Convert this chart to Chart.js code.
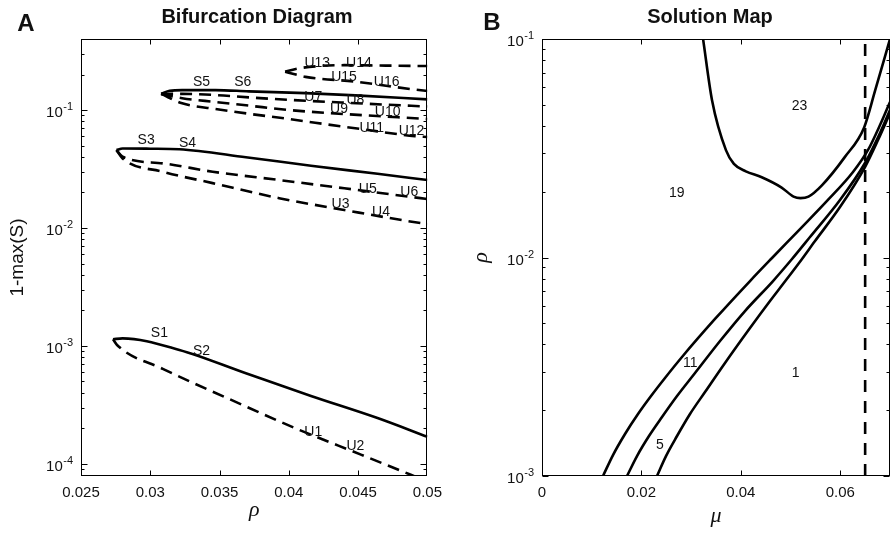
<!DOCTYPE html>
<html>
<head>
<meta charset="utf-8">
<script src="https://cdn.jsdelivr.net/npm/chart.js@4.4.1/dist/chart.umd.min.js"></script>
<style>
  body { margin: 0; background: #fff; }
  #wrap { position: relative; width: 891px; height: 533px; }
  canvas { position: absolute; top: 0; }
</style>
</head>
<body>
<div id="wrap">
  <canvas id="chartA" width="450" height="533" style="left:0"></canvas>
  <canvas id="chartB" width="441" height="533" style="left:450px"></canvas>
</div>
<script>
// ---------- Panel A: bifurcation diagram (rho vs 1-max(S)) ----------
const rhoTicksA = [0.025, 0.03, 0.035, 0.04, 0.045, 0.05];
const decadesA = [1e-4, 1e-3, 1e-2, 1e-1];

// lowest branch pair
const rhoS12 = [0.02731, 0.0280, 0.0321, 0.0369, 0.0416, 0.0464, 0.0500];
const valS12 = [1.14e-3, 1.16e-3, 9.25e-4, 5.87e-4, 3.77e-4, 2.45e-4, 1.70e-4];
const rhoU12 = [0.02731, 0.0276, 0.0309, 0.0357, 0.0405, 0.0452, 0.0488, 0.0500];
const valU12 = [1.14e-3, 1.02e-3, 6.4e-4, 3.55e-4, 2.0e-4, 1.2e-4, 8.1e-5, 7.1e-5];

// middle group
const rhoS34 = [0.02756, 0.0280, 0.0300, 0.0321, 0.0369, 0.0416, 0.0464, 0.0500];
const valS34 = [0.0458, 0.0472, 0.0470, 0.0465, 0.0398, 0.0337, 0.0288, 0.0255];
const rhoU3456 = [0.02756, 0.0280, 0.0309, 0.0345, 0.0393, 0.0440, 0.0495, 0.0500];
const valU56 = [0.0458, 0.0402, 0.0353, 0.0300, 0.0255, 0.0217, 0.0179, 0.0176];
const valU34 = [0.0458, 0.0389, 0.0300, 0.0240, 0.0179, 0.0142, 0.0110, 0.0108];

// upper group
const rhoS56 = [0.03078, 0.0314, 0.0323, 0.0347, 0.0371, 0.0412, 0.0448, 0.0500];
const valS56 = [0.137, 0.1455, 0.1476, 0.1476, 0.144, 0.139, 0.133, 0.123];
const rhoU7to10 = [0.03078, 0.0323, 0.0347, 0.0371, 0.0400, 0.0443, 0.0500];
const valU78 = [0.137, 0.137, 0.134, 0.128, 0.122, 0.115, 0.107];
const valU910 = [0.137, 0.126, 0.117, 0.109, 0.100, 0.092, 0.084];
const rhoU1112 = [0.03078, 0.0323, 0.0347, 0.0371, 0.0400, 0.0419, 0.0452, 0.0491, 0.0500];
const valU1112 = [0.137, 0.114, 0.102, 0.093, 0.084, 0.078, 0.069, 0.060, 0.059];

// top pair
const rhoU1314 = [0.03973, 0.0405, 0.0420, 0.0440, 0.0470, 0.0500];
const valU1314 = [0.211, 0.223, 0.235, 0.240, 0.238, 0.236];
const rhoU1516 = [0.03973, 0.0405, 0.0412, 0.0448, 0.0491, 0.0500];
const valU1516 = [0.211, 0.200, 0.191, 0.174, 0.149, 0.145];

// branch labels
const labelsA = ['S1', 'S2', 'U1', 'U2', 'S3', 'S4', 'U5', 'U6', 'U3', 'U4',
  'S5', 'S6', 'U7', 'U8', 'U9', 'U10', 'U11', 'U12', 'U13', 'U14', 'U15', 'U16'];
const labelRhoA = [0.03066, 0.0337, 0.04176, 0.0448, 0.0297, 0.03269, 0.0457, 0.04869, 0.04373, 0.04665,
  0.0337, 0.03668, 0.04176, 0.0448, 0.04362, 0.04713, 0.04598, 0.04885, 0.04205, 0.04506, 0.04398, 0.04706];
const labelValA = [1.28e-3, 8.95e-4, 1.85e-4, 1.42e-4, 0.0557, 0.0522, 0.0214, 0.020, 0.01596, 0.01352,
  0.1738, 0.1738, 0.1276, 0.1216, 0.102, 0.0953, 0.070, 0.0664, 0.249, 0.249, 0.1914, 0.171];

// ---------- Panel B: solution map (mu vs rho) ----------
const muTicksB = [0, 0.02, 0.04, 0.06];
const decadesB = [1e-3, 1e-2, 1e-1];

const muC1 = [0.0324, 0.0342, 0.0370, 0.0386, 0.0410, 0.0442, 0.0482, 0.0506, 0.0520, 0.0536, 0.0563, 0.0609, 0.0648, 0.0670, 0.0700];
const rhoC1 = [0.1, 0.0525, 0.031, 0.0268, 0.0248, 0.0233, 0.0209, 0.0190, 0.0187, 0.0190, 0.0214, 0.0288, 0.0394, 0.058, 0.1];
const muC2 = [0.01227, 0.01428, 0.01670, 0.01931, 0.02193, 0.02474, 0.02816, 0.03480, 0.04184,
  0.04627, 0.05190, 0.05733, 0.06256, 0.06558, 0.06799, 0.0700];
const rhoC2 = [0.001, 1.247e-3, 1.557e-3, 1.922e-3, 2.323e-3, 2.809e-3, 3.504e-3, 5.231e-3, 7.805e-3,
  9.95e-3, 0.01349, 0.01815, 0.02461, 0.03105, 0.04038, 0.05152];
const muC3 = [0.01710, 0.01911, 0.02152, 0.02414, 0.02716, 0.03078, 0.03581, 0.04083, 0.04647,
  0.05029, 0.05391, 0.05994, 0.06497, 0.06799, 0.0700];
const rhoC3 = [0.001, 1.234e-3, 1.524e-3, 1.862e-3, 2.323e-3, 2.960e-3, 4.147e-3, 5.689e-3, 7.805e-3,
  9.842e-3, 0.01241, 0.01833, 0.02707, 0.03714, 0.04732];
const muC4 = [0.02313, 0.02494, 0.02716, 0.02977, 0.03279, 0.03681, 0.04184, 0.04586, 0.04848,
  0.05170, 0.05492, 0.05994, 0.06497, 0.06759, 0.0700];
const rhoC4 = [0.001, 1.234e-3, 1.524e-3, 1.922e-3, 2.423e-3, 3.291e-3, 4.756e-3, 6.323e-3, 7.56e-3,
  9.44e-3, 0.01190, 0.01702, 0.02595, 0.03449, 0.04583];
const muCrit = [0.065, 0.065];
const rhoCrit = [0.001, 0.1];

const labelsB = ['23', '19', '11', '5', '1'];
const labelMuB = [0.0518, 0.0271, 0.0298, 0.0237, 0.0510];
const labelRhoB = [0.0493, 0.0198, 3.27e-3, 1.39e-3, 2.95e-3];

// ---------- helpers ----------
const SANS = '"Liberation Sans", Arial, sans-serif';
const INK = '#111';

const pts = (xs, ys) => xs.map((x, i) => ({ x, y: ys[i] }));

function curve(xs, ys, dashed) {
  return {
    data: pts(xs, ys),
    showLine: true,
    pointRadius: 0,
    borderColor: '#000',
    borderWidth: 2.6,
    borderDash: dashed ? [12, 7] : [],
    cubicInterpolationMode: 'monotone',
    fill: false
  };
}

const fmt = v => String(parseFloat(Number(v).toFixed(4)));

// frame, inward ticks, 10^n labels, titles and text labels
function makeDeco(cfg) {
  return {
    id: 'deco',
    afterDraw(chart) {
      const { ctx, chartArea: a, scales: { x, y } } = chart;
      ctx.save();
      ctx.strokeStyle = '#000';
      ctx.lineWidth = 1;
      const L = Math.round(a.left) + 0.5, R = Math.round(a.right) - 0.5;
      const T = Math.round(a.top) + 0.5, B = Math.round(a.bottom) - 0.5;
      ctx.strokeRect(L, T, R - L, B - T);

      const seg = (x1, y1, x2, y2) => { ctx.beginPath(); ctx.moveTo(x1, y1); ctx.lineTo(x2, y2); ctx.stroke(); };
      cfg.xTicks.forEach(v => {
        const px = Math.round(x.getPixelForValue(v)) + 0.5;
        if (px <= L + 1 || px >= R - 1) return;
        seg(px, B, px, B - 5);
        seg(px, T, px, T + 5);
      });
      const e0 = Math.floor(Math.log10(y.min)), e1 = Math.floor(Math.log10(y.max));
      for (let e = e0; e <= e1; e++) {
        for (let k = 1; k <= 9; k++) {
          const v = k * Math.pow(10, e);
          if (v < y.min * 0.999 || v > y.max * 1.001) continue;
          const py = Math.round(y.getPixelForValue(v)) + 0.5;
          const len = k === 1 ? 6 : 3;
          seg(L, py, L + len, py);
          seg(R, py, R - len, py);
        }
      }

      // y tick labels as 10 with superscript exponent
      ctx.fillStyle = INK;
      ctx.textBaseline = 'middle';
      ctx.textAlign = 'right';
      cfg.decades.forEach(d => {
        const py = y.getPixelForValue(d);
        const sup = String(Math.round(Math.log10(d)));
        ctx.font = '11px ' + SANS;
        const w = ctx.measureText(sup).width;
        ctx.fillText(sup, a.left - 8, py - 3);
        ctx.font = '15px ' + SANS;
        ctx.fillText('10', a.left - 8 - w - 0.5, py + 3);
      });

      // curve labels
      ctx.textAlign = 'center';
      ctx.font = '14px ' + SANS;
      cfg.labels.forEach((t, i) => {
        ctx.fillText(t, x.getPixelForValue(cfg.labelX[i]), y.getPixelForValue(cfg.labelY[i]));
      });

      // title and panel letter
      ctx.font = 'bold 20px ' + SANS;
      ctx.fillText(cfg.title, cfg.titleX, 17);
      ctx.font = 'bold 24px ' + SANS;
      ctx.fillText(cfg.letter, cfg.letterX, cfg.letterY);
      ctx.restore();
    }
  };
}

function baseOptions(o) {
  return {
    responsive: false,
    animation: false,
    layout: { padding: { left: 0, right: o.padRight, top: 39, bottom: 0 } },
    plugins: { legend: { display: false }, tooltip: { enabled: false } },
    scales: {
      x: {
        type: 'linear', min: o.xMin, max: o.xMax,
        afterBuildTicks: s => { s.ticks = o.xTicks.map(v => ({ value: v })); },
        afterFit: s => { s.height = 57; },
        grid: { display: false, drawTicks: false },
        border: { display: false },
        ticks: { padding: 8, autoSkip: false, maxRotation: 0, color: INK,
                 font: { family: SANS, size: 15 }, callback: v => fmt(v) },
        title: { display: true, text: o.xTitle, color: INK,
                 font: { family: '"Liberation Serif", serif', style: 'italic', size: 22 },
                 padding: { top: 0, bottom: o.xTitlePad } }
      },
      y: {
        type: 'logarithmic', min: o.yMin, max: o.yMax,
        afterFit: s => { s.width = o.yWidth; },
        grid: { display: false, drawTicks: false },
        border: { display: false },
        ticks: { display: false },
        title: { display: true, text: o.yTitle, color: INK, font: o.yFont,
                 padding: { top: o.yTitlePad, bottom: 0 } }
      }
    }
  };
}

new Chart(document.getElementById('chartA'), {
  type: 'scatter',
  data: {
    datasets: [
      curve(rhoS12, valS12, false), curve(rhoU12, valU12, true),
      curve(rhoS34, valS34, false), curve(rhoU3456, valU56, true), curve(rhoU3456, valU34, true),
      curve(rhoS56, valS56, false), curve(rhoU7to10, valU78, true), curve(rhoU7to10, valU910, true),
      curve(rhoU1112, valU1112, true),
      curve(rhoU1314, valU1314, true), curve(rhoU1516, valU1516, true)
    ]
  },
  options: baseOptions({
    padRight: 20, xMin: 0.025, xMax: 0.05, xTicks: rhoTicksA, xTitle: 'ρ', xTitlePad: 10,
    yMin: 7.9e-5, yMax: 0.4, yWidth: 81, yTitle: '1-max(S)',
    yFont: { family: SANS, size: 19 }, yTitlePad: 6
  }),
  plugins: [makeDeco({
    xTicks: rhoTicksA, decades: decadesA, labels: labelsA, labelX: labelRhoA, labelY: labelValA,
    title: 'Bifurcation Diagram', titleX: 257, letter: 'A', letterX: 26, letterY: 24
  })]
});

new Chart(document.getElementById('chartB'), {
  type: 'scatter',
  data: {
    datasets: [
      curve(muC1, rhoC1, false), curve(muC2, rhoC2, false),
      curve(muC3, rhoC3, false), curve(muC4, rhoC4, false),
      Object.assign(curve(muCrit, rhoCrit, true), { cubicInterpolationMode: 'default', tension: 0, borderDash: [12, 9] })
    ]
  },
  options: baseOptions({
    padRight: 1, xMin: 0, xMax: 0.07, xTicks: muTicksB, xTitle: 'μ', xTitlePad: 4,
    yMin: 1e-3, yMax: 0.1, yWidth: 92, yTitle: 'ρ',
    yFont: { family: '"Liberation Serif", serif', style: 'italic', size: 22 }, yTitlePad: 18
  }),
  plugins: [makeDeco({
    xTicks: muTicksB, decades: decadesB, labels: labelsB, labelX: labelMuB, labelY: labelRhoB,
    title: 'Solution Map', titleX: 260, letter: 'B', letterX: 42, letterY: 23
  })]
});
</script>
</body>
</html>
